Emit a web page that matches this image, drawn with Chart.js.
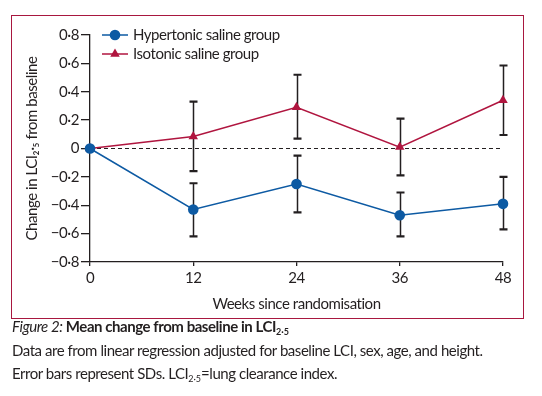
<!DOCTYPE html>
<html><head><meta charset="utf-8">
<script src="https://cdn.jsdelivr.net/npm/chart.js@4/dist/chart.umd.min.js"></script>
<style>
html,body{margin:0;padding:0;background:#fff;}
body{width:542px;height:396px;position:relative;overflow:hidden;font-family:Lato,"Noto Sans",sans-serif;color:#231f20;}
#frame{position:absolute;left:11px;top:15px;width:511px;height:302px;border:1.5px solid #a8173f;}
#wrap{position:absolute;left:0;top:0;width:542px;height:320px;}
#cap{position:absolute;left:12px;top:315px;width:530px;font-size:15px;line-height:23.5px;letter-spacing:-0.45px;}
#cap sub{font-size:9px;vertical-align:-3px;line-height:0;letter-spacing:0;}
</style></head><body>
<div id="frame"></div>
<div id="wrap"><canvas id="c" width="542" height="320"></canvas></div>
<div id="cap"><i>Figure 2:</i> <b>Mean change from baseline in LCI<sub>2·5</sub></b><br>Data are from linear regression adjusted for baseline LCI, sex, age, and height.<br>Error bars represent SDs. LCI<sub>2·5</sub>=lung clearance index.</div>
<script>
const weeks = [0, 12, 24, 36, 48];
const hyper = [0, -0.43, -0.25, -0.47, -0.39];
const hyperHi = [null, -0.245, -0.05, -0.31, -0.20];
const hyperLo = [null, -0.62, -0.45, -0.62, -0.57];
const iso = [0, 0.085, 0.29, 0.01, 0.34];
const isoHi = [null, 0.33, 0.52, 0.21, 0.585];
const isoLo = [null, -0.16, 0.07, -0.19, 0.095];
const seriesNames = ["Hypertonic saline group", "Isotonic saline group"];
const yTicks = [-0.8, -0.6, -0.4, -0.2, 0, 0.2, 0.4, 0.6, 0.8];

const BLUE = "#0d5aa3", RED = "#b0153f", INK = "#231f20";
const FONT = "Lato, 'Noto Sans', sans-serif";

function fmt(v){
  if (Math.abs(v) < 1e-9) return "0";
  return (v < 0 ? "\u2212" : "") + Math.abs(v).toFixed(1).replace(".", "\u00b7");
}

const spacing = {
  id: "spacing",
  beforeDraw(chart){ chart.ctx.letterSpacing = "-0.45px"; }
};

const errorBars = {
  id: "errorBars",
  beforeDatasetsDraw(chart){
    const {ctx, scales:{x, y}} = chart;
    ctx.save();
    ctx.strokeStyle = INK; ctx.lineWidth = 1.2; ctx.setLineDash([4, 3]);
    ctx.beginPath(); ctx.moveTo(x.getPixelForValue(0), y.getPixelForValue(0));
    ctx.lineTo(x.getPixelForValue(48), y.getPixelForValue(0)); ctx.stroke();
    ctx.setLineDash([]);
    const sets = [[hyperLo, hyperHi], [isoLo, isoHi]];
    sets.forEach(([lo, hi]) => {
      weeks.forEach((w, i) => {
        if (lo[i] == null) return;
        const px = Math.round(x.getPixelForValue(w)) + 0.5;
        const y1 = y.getPixelForValue(lo[i]), y2 = y.getPixelForValue(hi[i]);
        ctx.strokeStyle = INK; ctx.lineWidth = 1.5;
        ctx.beginPath(); ctx.moveTo(px, y1); ctx.lineTo(px, y2); ctx.stroke();
        ctx.lineWidth = 2.2;
        ctx.beginPath();
        ctx.moveTo(px - 4, y1); ctx.lineTo(px + 4, y1);
        ctx.moveTo(px - 4, y2); ctx.lineTo(px + 4, y2);
        ctx.stroke();
      });
    });
    ctx.restore();
  }
};

const legendIn = {
  id: "legendIn",
  afterDraw(chart){
    const ctx = chart.ctx;
    ctx.save();
    const items = [{c: BLUE, s: "circle", y: 35, t: seriesNames[0]}, {c: RED, s: "triangle", y: 54, t: seriesNames[1]}];
    items.forEach(it => {
      ctx.strokeStyle = it.c; ctx.lineWidth = 1.5;
      ctx.beginPath(); ctx.moveTo(102, it.y); ctx.lineTo(128, it.y); ctx.stroke();
      ctx.fillStyle = it.c;
      ctx.beginPath();
      if (it.s === "circle") { ctx.arc(115, it.y, 5.3, 0, Math.PI * 2); }
      else {
        const r = 5.5;
        ctx.moveTo(115, it.y - r);
        ctx.lineTo(115 + r * Math.sin(2 * Math.PI / 3), it.y - r * Math.cos(2 * Math.PI / 3));
        ctx.lineTo(115 + r * Math.sin(4 * Math.PI / 3), it.y - r * Math.cos(4 * Math.PI / 3));
        ctx.closePath();
      }
      ctx.fill();
      ctx.fillStyle = INK; ctx.font = "15px " + FONT; ctx.textBaseline = "middle"; ctx.textAlign = "left";
      ctx.fillText(it.t, 133, it.y);
    });
    ctx.restore();
  }
};

new Chart(document.getElementById("c"), {
  type: "line",
  data: {
    datasets: [
      {label: seriesNames[0], data: weeks.map((w, i) => ({x: w, y: hyper[i]})), borderColor: BLUE, backgroundColor: BLUE,
       borderWidth: 1.5, pointStyle: "circle", pointRadius: 5.3, pointBorderWidth: 0, pointHoverRadius: 5.3, clip: false, tension: 0},
      {label: seriesNames[1], data: weeks.map((w, i) => ({x: w, y: iso[i]})), borderColor: RED, backgroundColor: RED,
       borderWidth: 1.5, pointStyle: "triangle", pointRadius: 5.5, pointBorderWidth: 0, pointHoverRadius: 5.5, clip: false, tension: 0}
    ]
  },
  options: {
    responsive: false, animation: false, events: [],
    layout: {padding: {left: 0, top: 35, right: 39, bottom: 0}},
    plugins: {legend: {display: false}, tooltip: {enabled: false}},
    scales: {
      x: {
        type: "linear", min: 0, max: 48,
        afterFit(s){ s.height = 58; },
        afterBuildTicks(s){ s.ticks = weeks.map(v => ({value: v})); },
        ticks: {color: INK, font: {family: FONT, size: 15}, padding: 3, maxRotation: 0, callback: v => String(v)},
        grid: {drawOnChartArea: false, drawTicks: true, tickLength: 4, color: INK, lineWidth: 1.3},
        border: {display: true, color: INK, width: 1.3},
        title: {display: true, text: "Weeks since randomisation", color: INK, font: {family: FONT, size: 15}, padding: {top: 0, bottom: 7}}
      },
      y: {
        min: -0.8, max: 0.8,
        afterFit(s){ s.width = 90; },
        afterBuildTicks(s){ s.ticks = yTicks.map(v => ({value: v})); },
        ticks: {color: INK, font: {family: FONT, size: 15}, padding: 2, callback: v => fmt(v)},
        grid: {drawOnChartArea: false, drawTicks: true, tickLength: 9, color: INK, lineWidth: 1.3},
        border: {display: true, color: INK, width: 1.3},
        title: {display: true, text: "Change in LCI\u2082\u00b7\u2085 from baseline", color: INK, font: {family: FONT, size: 15}, padding: {top: 23, bottom: 0}}
      }
    }
  },
  plugins: [spacing, errorBars, legendIn]
});
</script>
</body></html>
